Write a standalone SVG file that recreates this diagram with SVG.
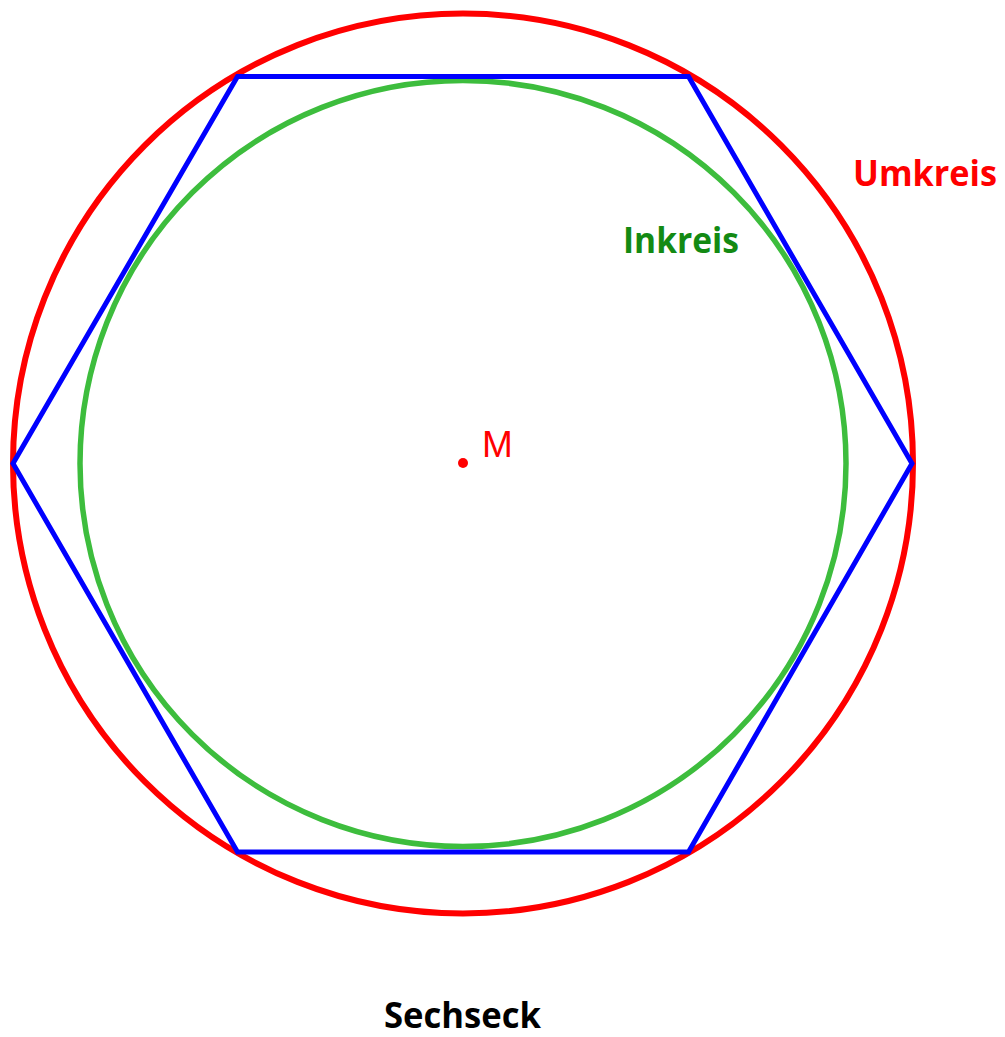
<svg xmlns="http://www.w3.org/2000/svg" width="1005" height="1037" viewBox="0 0 1005 1037">
<style>
.lbl{font-family:"Open Sans","Liberation Sans",sans-serif;font-weight:bold;font-size:36px}
</style>
<rect width="1005" height="1037" fill="#ffffff"/>
<g id="umkreis">
<circle cx="463" cy="463.5" r="450" fill="none" stroke="#ff0000" stroke-width="6"/>
</g>
<g id="inkreis">
<circle cx="463" cy="463.5" r="383" fill="none" stroke="#3dbd3d" stroke-width="5.5"/>
</g>
<g id="sechseck">
<polygon points="13,463.5 237.5,76.5 688.5,76.5 912,463.5 688.5,852 237.5,852" fill="none" stroke="#0000ff" stroke-width="5" stroke-linejoin="miter"/>
</g>
<g id="mittelpunkt">
<circle cx="463" cy="463" r="5" fill="#ff0000"/>
<text x="482" y="457" font-family="Liberation Sans, Arial, sans-serif" font-size="37" fill="#ff0000">M</text>
</g>
<g id="labels">
<text class="lbl" x="853" y="186" fill="#ff0000" textLength="144" lengthAdjust="spacingAndGlyphs">Umkreis</text>
<text class="lbl" x="623" y="253" fill="#138a13" textLength="116" lengthAdjust="spacingAndGlyphs">Inkreis</text>
<text class="lbl" x="384" y="1028" fill="#000000" textLength="157" lengthAdjust="spacingAndGlyphs">Sechseck</text>
</g>
<g id="connectors"></g>
</svg>
